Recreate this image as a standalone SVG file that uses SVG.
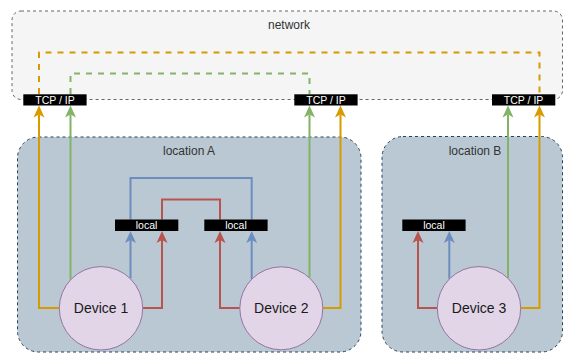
<svg xmlns="http://www.w3.org/2000/svg" width="563" height="354" viewBox="0 0 563 354">
  <style>
    .zone-net { fill: #f5f5f5; stroke: #666666; stroke-width: 1; stroke-dasharray: 3 3; }
    .zone-loc { fill: #bac8d3; stroke: #23445d; stroke-width: 1; stroke-dasharray: 3 3; }
    .device { fill: #e1d5e7; stroke: #9673a6; stroke-width: 1; }
    .port { fill: #000000; }
    .port-text { fill: #ffffff; font-family: "Liberation Sans", Arial, sans-serif; font-size: 10.5px; text-anchor: middle; }
    .label { fill: #333333; font-family: "Liberation Sans", Arial, sans-serif; font-size: 12px; text-anchor: middle; }
    .dev-text { fill: #1a1a1a; font-family: "Liberation Sans", Arial, sans-serif; font-size: 14px; text-anchor: middle; }
    .link { fill: none; stroke-width: 2; }
    .orange { stroke: #d79b00; }
    .green { stroke: #82b366; }
    .blue { stroke: #6c8ebf; }
    .red { stroke: #b85450; }
    .dash { stroke-dasharray: 6 6; }
  </style>
  <defs>
    <marker id="arr-orange" markerUnits="userSpaceOnUse" markerWidth="12" markerHeight="12" viewBox="0 0 12 12" refX="3" refY="6" orient="auto">
      <path d="M12,6 L0,0.5 L3,6 L0,11.5 Z" fill="#d79b00"/>
    </marker>
    <marker id="arr-green" markerUnits="userSpaceOnUse" markerWidth="12" markerHeight="12" viewBox="0 0 12 12" refX="3" refY="6" orient="auto">
      <path d="M12,6 L0,0.5 L3,6 L0,11.5 Z" fill="#82b366"/>
    </marker>
    <marker id="arr-blue" markerUnits="userSpaceOnUse" markerWidth="12" markerHeight="12" viewBox="0 0 12 12" refX="3" refY="6" orient="auto">
      <path d="M12,6 L0,0.5 L3,6 L0,11.5 Z" fill="#6c8ebf"/>
    </marker>
    <marker id="arr-red" markerUnits="userSpaceOnUse" markerWidth="12" markerHeight="12" viewBox="0 0 12 12" refX="3" refY="6" orient="auto">
      <path d="M12,6 L0,0.5 L3,6 L0,11.5 Z" fill="#b85450"/>
    </marker>
  </defs>

  <!-- zones -->
  <g id="network">
    <rect class="zone-net" x="12" y="11" width="550.5" height="88.5" rx="9"/>
    <text class="label" x="289" y="29">network</text>
  </g>
  <g id="location-a">
    <rect class="zone-loc" x="17.5" y="137" width="343.5" height="215" rx="21"/>
    <text class="label" x="189" y="155">location A</text>
  </g>
  <g id="location-b">
    <rect class="zone-loc" x="382" y="136.5" width="180.5" height="215.5" rx="21"/>
    <text class="label" x="475" y="155">location B</text>
  </g>

  <!-- connectors -->
  <g id="connectors">
    <!-- network-side links between TCP/IP ports -->
    <path class="link orange dash" d="M39,94 V52.5 H539.5 V94"/>
    <path class="link green dash" d="M70.5,94 V73.5 H309.5 V94"/>
    <!-- local links between local ports -->
    <path class="link blue" d="M130.5,219.5 V178 H251.7 V219.5"/>
    <path class="link red" d="M162,219.5 V199.5 H220 V219.5"/>

    <!-- Device 1 -->
    <path class="link orange" d="M59.5,308 H39 V114.5" marker-end="url(#arr-orange)"/>
    <path class="link green" d="M70.5,279.6 V114.5" marker-end="url(#arr-green)"/>
    <path class="link blue" d="M130.5,278.5 V240" marker-end="url(#arr-blue)"/>
    <path class="link red" d="M142.7,308 H162 V240" marker-end="url(#arr-red)"/>

    <!-- Device 2 -->
    <path class="link red" d="M240,308 H220 V240" marker-end="url(#arr-red)"/>
    <path class="link blue" d="M251.7,279 V240" marker-end="url(#arr-blue)"/>
    <path class="link green" d="M309.5,277.6 V114.5" marker-end="url(#arr-green)"/>
    <path class="link orange" d="M322.8,308 H340.5 V114.5" marker-end="url(#arr-orange)"/>

    <!-- Device 3 -->
    <path class="link red" d="M437.3,308 H418 V240" marker-end="url(#arr-red)"/>
    <path class="link blue" d="M449.3,278.7 V240" marker-end="url(#arr-blue)"/>
    <path class="link green" d="M508,278 V114.5" marker-end="url(#arr-green)"/>
    <path class="link orange" d="M520.7,308 H539.5 V114.5" marker-end="url(#arr-orange)"/>
  </g>

  <!-- ports -->
  <g id="tcp-1">
    <rect class="port" x="23.3" y="94.3" width="63.3" height="11.2"/>
    <text class="port-text" x="55" y="103.8">TCP / IP</text>
  </g>
  <g id="tcp-2">
    <rect class="port" x="294.3" y="94.3" width="63.3" height="11.2"/>
    <text class="port-text" x="326" y="103.8">TCP / IP</text>
  </g>
  <g id="tcp-3">
    <rect class="port" x="492" y="94.3" width="63.3" height="11.2"/>
    <text class="port-text" x="523.6" y="103.8">TCP / IP</text>
  </g>
  <g id="local-1">
    <rect class="port" x="115" y="219.5" width="63.3" height="11.5"/>
    <text class="port-text" x="146.6" y="228.9">local</text>
  </g>
  <g id="local-2">
    <rect class="port" x="204.3" y="219.5" width="63.3" height="11.5"/>
    <text class="port-text" x="236" y="228.9">local</text>
  </g>
  <g id="local-3">
    <rect class="port" x="402.3" y="219.5" width="63.3" height="11.5"/>
    <text class="port-text" x="434" y="228.9">local</text>
  </g>

  <!-- devices -->
  <g id="device-1">
    <circle class="device" cx="101" cy="308.3" r="41.7"/>
    <text class="dev-text" x="101" y="313">Device 1</text>
  </g>
  <g id="device-2">
    <circle class="device" cx="281.3" cy="308.3" r="41.5"/>
    <text class="dev-text" x="281.3" y="313">Device 2</text>
  </g>
  <g id="device-3">
    <circle class="device" cx="479" cy="308.3" r="41.7"/>
    <text class="dev-text" x="479" y="313">Device 3</text>
  </g>
</svg>
